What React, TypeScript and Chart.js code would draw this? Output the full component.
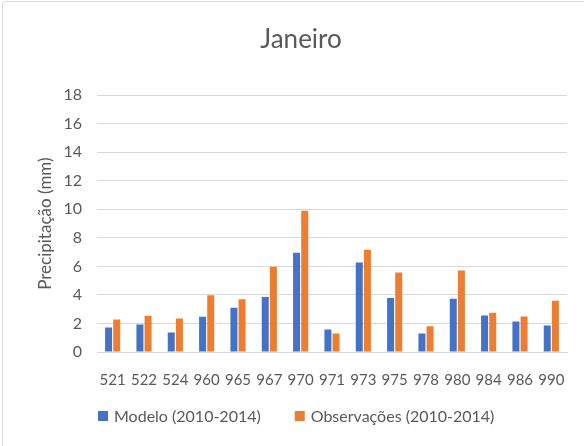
import React, { useEffect, useRef } from "react";
import { Chart, registerables } from "chart.js";

Chart.register(...registerables);

const categories = ["521", "522", "524", "960", "965", "967", "970", "971", "973", "975", "978", "980", "984", "986", "990"];
const modelo = [1.72, 1.93, 1.37, 2.47, 3.1, 3.85, 6.95, 1.58, 6.27, 3.78, 1.3, 3.73, 2.56, 2.14, 1.86];
const observacoes = [2.28, 2.54, 2.35, 3.98, 3.7, 5.97, 9.9, 1.3, 7.16, 5.57, 1.8, 5.71, 2.75, 2.49, 3.59];
const yTicks = [0, 2, 4, 6, 8, 10, 12, 14, 16, 18];

const FONT = "Lato, 'Open Sans', sans-serif";
const TEXT = "#595959";

const bottomLegend = {
  id: "bottomLegend",
  afterDraw(chart: any) {
    const ctx = chart.ctx;
    ctx.save();
    ctx.font = `16px ${FONT}`;
    ctx.textBaseline = "middle";
    ctx.textAlign = "left";
    const y = 416;
    let x = 98;
    chart.data.datasets.forEach((ds: any) => {
      ctx.fillStyle = ds.backgroundColor;
      ctx.fillRect(x, y - 5, 10, 10);
      ctx.fillStyle = TEXT;
      ctx.fillText(ds.label, x + 16, y + 1);
      x += 16 + ctx.measureText(ds.label).width + 34;
    });
    ctx.restore();
  },
};

export default function App() {
  const ref = useRef<HTMLCanvasElement>(null);
  useEffect(() => {
    document.body.style.margin = "0";
    const chart = new Chart(ref.current!, {
      type: "bar",
      data: {
        labels: categories,
        datasets: [
          { label: "Modelo (2010-2014)", data: modelo, backgroundColor: "#4472C4", categoryPercentage: 0.52, barPercentage: 0.86 },
          { label: "Observações (2010-2014)", data: observacoes, backgroundColor: "#ED7D31", categoryPercentage: 0.52, barPercentage: 0.86 },
        ],
      },
      plugins: [bottomLegend],
      options: {
        animation: false,
        responsive: false,
        maintainAspectRatio: false,
        layout: { padding: { left: 35, right: 17, top: 18, bottom: 38 } },
        plugins: {
          title: {
            display: true,
            text: "Janeiro",
            color: TEXT,
            font: { family: FONT, size: 26, weight: "normal" },
            padding: { top: 6, bottom: 40 },
          },
          legend: { display: false },
          tooltip: { enabled: false },
        },
        scales: {
          x: {
            grid: { display: false, drawTicks: false },
            border: { display: true, color: "#d9d9d9" },
            ticks: { color: TEXT, font: { family: FONT, size: 15 }, padding: 19, maxRotation: 0, autoSkip: false },
          },
          y: {
            min: 0,
            max: 18,
            afterBuildTicks: (axis: any) => {
              axis.ticks = yTicks.map((v) => ({ value: v }));
            },
            afterFit: (axis: any) => {
              axis.width = 62;
            },
            grid: { color: "#d9d9d9", drawTicks: false },
            border: { display: false },
            ticks: { color: TEXT, font: { family: FONT, size: 16 }, padding: 15 },
            title: {
              display: true,
              text: "Precipitação (mm)",
              color: TEXT,
              font: { family: FONT, size: 17 },
              padding: { top: 0, bottom: 0 },
            },
          },
        },
      },
    });
    return () => chart.destroy();
  }, []);
  return (
    <div style={{ position: "fixed", left: 0, top: 0, width: 584, height: 446, background: "#fff" }}>
      <div style={{ position: "absolute", left: 2, top: 1, width: 590, height: 460, border: "1px solid #d9d9d9", borderRadius: 4, boxSizing: "border-box" }} />
      <canvas ref={ref} width={584} height={446} style={{ position: "absolute", left: 0, top: 0 }} />
    </div>
  );
}
